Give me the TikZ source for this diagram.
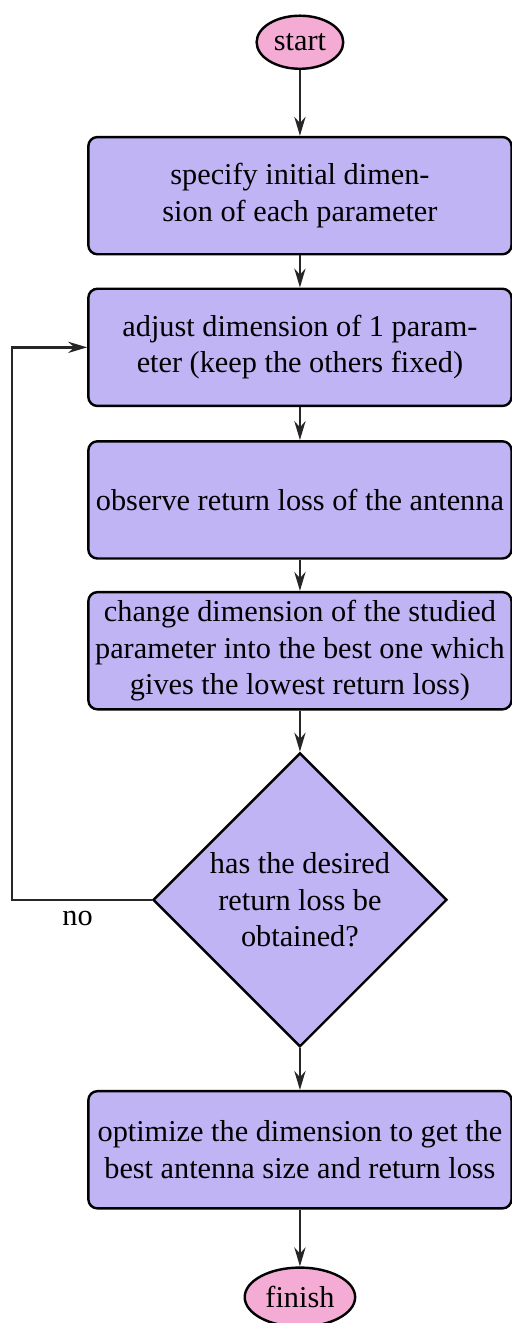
\documentclass[tikz,border=0pt]{standalone}
\usepackage{fontspec}
\setmainfont{Liberation Serif}
\usetikzlibrary{shapes.geometric, arrows.meta}

\definecolor{boxfill}{RGB}{192,180,244}
\definecolor{termfill}{RGB}{244,172,212}

\begin{document}
\begin{tikzpicture}[thick, >={Stealth[length=2.2mm, width=1.3mm]},
  box/.style={draw, rounded corners=3pt, fill=boxfill, align=center,
    minimum width=4.91cm, minimum height=1.36cm, inner sep=1pt},
  term/.style={draw, ellipse, fill=termfill, minimum height=0.6cm, inner xsep=1.5pt},
  decision/.style={draw, diamond, fill=boxfill, align=center, minimum size=3.41cm, inner sep=0pt},
  line/.style={->, thick, draw=black!85}]
  \useasboundingbox (0,0) rectangle (5.94,-15.35);

  \node[term] (start) at (3.48,-0.49) {start};
  \node[box] (spec) at (3.48,-2.27) {specify initial dimen-\\sion of each parameter};
  \node[box] (adjust) at (3.48,-4.03) {adjust dimension of 1 param-\\eter (keep the others fixed)};
  \node[box] (observe) at (3.48,-5.80) {observe return loss of the antenna};
  \node[box] (change) at (3.48,-7.55) {change dimension of the studied\\parameter into the best one which\\gives the lowest return loss)};
  \node[decision] (check) at (3.48,-10.44) {has the desired\\return loss be\\obtained?};
  \node[box] (optim) at (3.48,-13.34) {optimize the dimension to get the\\best antenna size and return loss};
  \node[term] (finish) at (3.48,-15.05) {finish};

  \coordinate (loopB) at (0.14,-10.44);
  \coordinate (loopT) at (0.14,-4.03);

  \draw[line] (start) -- (spec);
  \draw[line] (spec) -- (adjust);
  \draw[line] (adjust) -- (observe);
  \draw[line] (observe) -- (change);
  \draw[line] (change) -- (check);
  \draw[line] (check) -- (optim);
  \draw[line] (optim) -- (finish);

  % back to the adjusting step
  \draw[line] (check.west) -- (loopB) -- (loopT) -- (adjust.west);
  \node (no) at (0.90,-10.66) {no};
\end{tikzpicture}
\end{document}
